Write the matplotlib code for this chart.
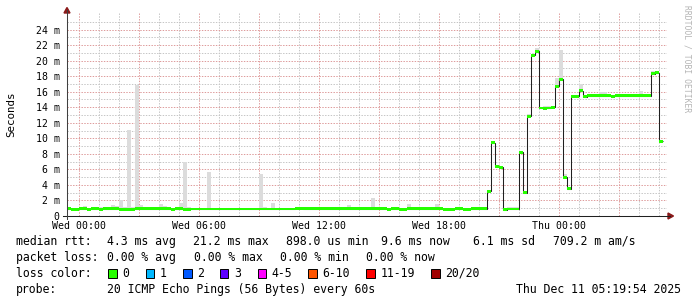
import numpy as np
import matplotlib
matplotlib.use("Agg")
import matplotlib.pyplot as plt
from matplotlib.patches import Rectangle, Polygon
from matplotlib.lines import Line2D

# ---------------- data ----------------
N = None
step_hours = 0.2          # one sample every 12 minutes
start_hour = -0.6         # first sample: Tue 23:24 (hours relative to Wed 00:00)

median_ms = [
    0.95, 0.85, 0.85, 0.95, 0.95, 0.85, 0.95, 0.95, 0.85, 0.95,
    0.95, 0.95, 0.95, 0.88, 0.88, 0.88, 0.88, 0.95, 0.95, 0.95,
    0.95, 0.95, 0.95, 0.95, 0.95, 0.95, 0.85, 0.95, 0.95, 0.88,
    0.88, 0.90, 0.90, 0.90, 0.90, 0.90, 0.90, 0.90, 0.90, 0.90,
    0.90, 0.90, 0.90, 0.90, 0.90, 0.90, 0.90, 0.90, 0.90, 0.90,
    0.90, 0.90, 0.90, 0.90, 0.90, 0.90, 0.90, 0.98, 0.98, 0.92,
    0.92, 0.92, 0.92, 0.92, 0.92, 0.92, 0.92, 0.92, 0.92, 0.92,
    0.92, 0.92, 0.92, 0.92, 0.92, 0.92, 0.92, 0.92, 0.92, 0.92,
    0.85, 0.92, 0.92, 0.85, 0.85, 0.92, 0.92, 0.92, 0.92, 0.92,
    0.92, 0.92, 0.92, 0.92, 0.85, 0.85, 0.85, 0.92, 0.92, 0.85,
    0.85, 0.92, 0.92, 0.92, 0.92, 3.20, 9.45, 6.40, 6.25, 0.82,
    0.90, 0.90, 0.90, 8.20, 2.97, 12.85, 20.70, 21.20, 13.90, 13.85,
    13.90, 14.00, 16.70, 17.60, 5.00, 3.50, 15.40, 15.40, 16.10, 15.35,
    15.45, 15.50, 15.50, 15.50, 15.50, 15.50, 15.40, 15.45, 15.50, 15.50,
    15.50, 15.50, 15.50, 15.50, 15.50, 15.45, 18.30, 18.45, 9.60,
]

smoke_top_ms = [
    1.16, N, N, N, 1.29, N, N, 1.16, 1.16, 1.16,
    1.16, 1.42, 1.30, 2.00, 1.16, 11.10, 1.16, 16.80, 1.42, N,
    1.16, 1.16, 1.16, 1.55, 1.30, N, N, N, 1.68, 6.97,
    1.16, N, N, N, N, 5.68, N, N, N, N,
    N, N, N, N, N, N, N, N, 5.42, 1.16,
    N, 1.68, N, N, N, N, N, 1.16, N, N,
    1.16, N, N, N, N, N, N, N, N, 1.16,
    1.42, 1.16, N, N, N, N, 2.32, N, 1.16, N,
    N, N, N, N, N, 1.55, N, N, N, N,
    1.16, N, 1.55, 1.16, N, N, N, N, 1.16, N,
    N, 1.16, 1.16, 1.16, 1.16, 3.30, 9.65, 6.50, N, N,
    1.16, 1.16, 1.16, 8.30, N, 13.10, N, 21.60, N, 14.10,
    14.20, N, 17.80, 21.40, 5.46, 3.60, N, N, 17.00, N,
    15.60, N, N, 16.00, 16.00, N, N, N, N, N,
    N, N, N, 16.10, N, N, 18.60, N, N,
]

x_tick_hours = [0, 6, 12, 18, 24]
x_tick_labels = ["Wed 00:00", "Wed 06:00", "Wed 12:00", "Wed 18:00", "Thu 00:00"]
y_tick_values = list(range(0, 25, 2))
y_tick_labels = ["0"] + [f"{v} m" for v in range(2, 25, 2)]

rtt_stats = ["4.3 ms avg", "21.2 ms max", "898.0 us min", "9.6 ms now",
             "6.1 ms sd", "709.2 m am/s"]
loss_stats = ["0.00 % avg", "0.00 % max", "0.00 % min", "0.00 % now"]
loss_labels = ["0", "1", "2", "3", "4-5", "6-10", "11-19", "20/20"]
loss_colors = ["#26ff00", "#00b8ff", "#0059ff", "#5e00ff",
               "#ff00ff", "#ff5500", "#ff0000", "#a10000"]
probe_text = "20 ICMP Echo Pings (56 Bytes) every 60s"
timestamp_text = "Thu Dec 11 05:19:54 2025"

# ---------------- layout ----------------
W, H = 697, 297
L, R, T, B = 67, 667, 13, 216
px_per_ms = (216 - 29.5) / 24.0

fig = plt.figure(figsize=(W / 100, H / 100), dpi=100, facecolor="white")
ax = fig.add_axes([L / W, 1 - B / H, (R - L) / W, (B - T) / H])
ax.set_facecolor("white")

med = np.array(median_ms, dtype=float)
smk = np.array([np.nan if v is None else v for v in smoke_top_ms], dtype=float)
n = len(med)
t = start_hour + step_hours * np.arange(n)
edges = start_hour + step_hours * np.arange(n + 1)

ax.set_xlim(start_hour, start_hour + (R - L) / 20.0)
ax.set_ylim(0, (B - T) / px_per_ms)

# grid
minor_c, major_c = "#c6c6c6", "#de9c9c"
dash = (0, (1.4, 1.4))
for h in range(0, 30):
    ax.axvline(h, color=major_c if h % 3 == 0 else minor_c, lw=0.72,
               linestyle=dash, zorder=0)
for v in range(1, 26):
    ax.axhline(v, color=major_c if v % 2 == 0 else minor_c, lw=0.72,
               linestyle=dash, zorder=0)

# smoke
smoke_h = np.where(np.isnan(smk), 0.0, np.clip(smk - med, 0, None))
ax.bar(t, smoke_h, bottom=med, width=step_hours, align="edge",
       color="#dcdcdc", linewidth=0, zorder=1)

# median line (black) and loss-coloured band
ax.stairs(med, edges, baseline=None, color="#202020", lw=0.75, zorder=2)
sw = 0.19
ax.bar(t, np.full(n, 2 * sw), bottom=med - sw, width=step_hours, align="edge",
       color=loss_colors[0], linewidth=0, zorder=3)

# ticks
ax.set_xticks(x_tick_hours, x_tick_labels)
ax.set_yticks(y_tick_values, y_tick_labels)
ax.tick_params(length=0, labelsize=7.1, colors="black")
ax.tick_params(axis="x", pad=3.6)
ax.tick_params(axis="y", pad=5.4)
for lab in ax.get_xticklabels() + ax.get_yticklabels():
    lab.set_fontfamily("DejaVu Sans Mono")
for s in ax.spines.values():
    s.set_visible(False)


def fx(x):
    return x / W


def fy(y):
    return 1 - y / H


# axes lines + arrows
fig.add_artist(Line2D([fx(63), fx(670)], [fy(216), fy(216)], color="#202020",
                      lw=0.75, transform=fig.transFigure))
fig.add_artist(Line2D([fx(67), fx(67)], [fy(219), fy(10)], color="#404040",
                      lw=0.75, transform=fig.transFigure))
fig.add_artist(Polygon([(fx(64), fy(13)), (fx(70), fy(13)), (fx(67), fy(7.5))],
                       closed=True, color="#8b1a1a", transform=fig.transFigure))
fig.add_artist(Polygon([(fx(668), fy(213)), (fx(668), fy(219)), (fx(673.5), fy(216))],
                       closed=True, color="#8b1a1a", transform=fig.transFigure))

mono = "DejaVu Sans Mono"
fs = 8.3

fig.text(fx(11), fy(114), "Seconds", rotation=90, ha="center", va="center",
         family=mono, fontsize=7.8)
fig.text(fx(687), fy(59), "RRDTOOL / TOBI OETIKER", rotation=270, ha="center",
         va="center", family=mono, fontsize=5.8, color="#b4b4b4")

# legend lines
rows_y = [245, 261, 277, 293]
fig.text(fx(16), fy(rows_y[0]), "median rtt:", family=mono, fontsize=fs, va="baseline")
for xpos, s in zip([107.3, 192.9, 285.5, 381.3, 472.6, 552.8], rtt_stats):
    fig.text(fx(xpos), fy(rows_y[0]), s, family=mono, fontsize=fs, va="baseline")

fig.text(fx(16), fy(rows_y[1]), "packet loss:", family=mono, fontsize=fs, va="baseline")
for xpos, s in zip([107.3, 194.2, 280.2, 366.1], loss_stats):
    fig.text(fx(xpos), fy(rows_y[1]), s, family=mono, fontsize=fs, va="baseline")

fig.text(fx(16), fy(rows_y[2]), "loss color:", family=mono, fontsize=fs, va="baseline")
sq_x = [108, 145.7, 183, 220, 257.5, 308, 366, 431]
lab_x = [122, 159.5, 196.9, 233.9, 271.7, 322.5, 380.8, 445.4]
for sx, lx, lab, col in zip(sq_x, lab_x, loss_labels, loss_colors):
    fig.add_artist(Rectangle((fx(sx), fy(rows_y[2] + 0.5)), 8.5 / W, 9 / H,
                             facecolor=col, edgecolor="black", lw=0.7,
                             transform=fig.transFigure))
    fig.text(fx(lx), fy(rows_y[2]), lab, family=mono, fontsize=fs, va="baseline")

fig.text(fx(16), fy(rows_y[3]), "probe:", family=mono, fontsize=fs, va="baseline")
fig.text(fx(107.3), fy(rows_y[3]), probe_text, family=mono, fontsize=fs, va="baseline")
fig.text(fx(681.5), fy(rows_y[3]), timestamp_text, family=mono, fontsize=fs,
         va="baseline", ha="right")

fig.savefig("out.png", dpi=100, facecolor="white")
